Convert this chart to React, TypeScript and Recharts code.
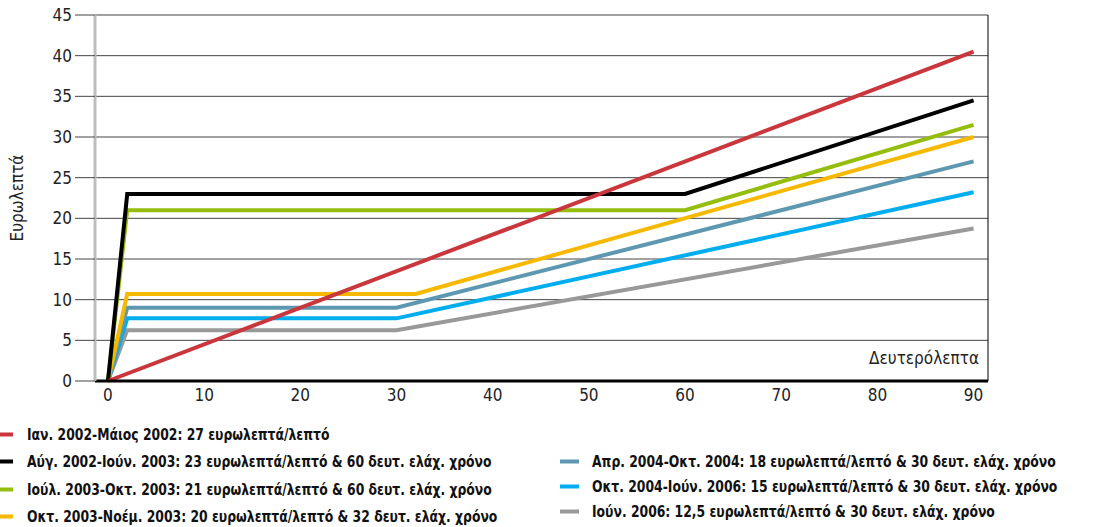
import { LineChart, Line, XAxis, YAxis, CartesianGrid, ReferenceLine } from 'recharts'

// Χρόνος (δευτερόλεπτα) και κόστος (ευρωλεπτά) ανά περίοδο
const redX = [0, 90]
const redY = [0, 40.5]
const blackX = [0, 2, 60, 90]
const blackY = [0, 23, 23, 34.5]
const greenX = [0, 2, 60, 90]
const greenY = [0, 21, 21, 31.5]
const yellowX = [0, 2, 32, 90]
const yellowY = [0, 10.7, 10.7, 30]
const steelX = [0, 2, 30, 90]
const steelY = [0, 9, 9, 27]
const cyanX = [0, 2, 30, 90]
const cyanY = [0, 7.7, 7.7, 23.2]
const grayX = [0, 2, 30, 90]
const grayY = [0, 6.25, 6.25, 18.75]

const xTicks = [0, 10, 20, 30, 40, 50, 60, 70, 80, 90]
const yTicks = [0, 5, 10, 15, 20, 25, 30, 35, 40, 45]

const labels = [
  'Ιαν. 2002-Μάιος 2002: 27 ευρωλεπτά/λεπτό',
  'Αύγ. 2002-Ιούν. 2003: 23 ευρωλεπτά/λεπτό & 60 δευτ. ελάχ. χρόνο',
  'Ιούλ. 2003-Οκτ. 2003: 21 ευρωλεπτά/λεπτό & 60 δευτ. ελάχ. χρόνο',
  'Οκτ. 2003-Νοέμ. 2003: 20 ευρωλεπτά/λεπτό & 32 δευτ. ελάχ. χρόνο',
  'Απρ. 2004-Οκτ. 2004: 18 ευρωλεπτά/λεπτό & 30 δευτ. ελάχ. χρόνο',
  'Οκτ. 2004-Ιούν. 2006: 15 ευρωλεπτά/λεπτό & 30 δευτ. ελάχ. χρόνο',
  'Ιούν. 2006: 12,5 ευρωλεπτά/λεπτό & 30 δευτ. ελάχ. χρόνο',
]
const colors = ['#c9373d', '#000000', '#95bd0e', '#f6b900', '#5e98b0', '#00adee', '#999999']

const toRows = (xs: number[], ys: number[]) => xs.map((x, i) => ({ x, y: ys[i] }))

const series = [
  toRows(redX, redY),
  toRows(blackX, blackY),
  toRows(greenX, greenY),
  toRows(yellowX, yellowY),
  toRows(steelX, steelY),
  toRows(cyanX, cyanY),
  toRows(grayX, grayY),
]
const drawOrder = [6, 5, 4, 3, 2, 1, 0]

const axisFont = '"Liberation Sans Narrow", "DejaVu Sans Condensed", sans-serif'

// θέσεις υπομνήματος: αριστερή στήλη 0-3, δεξιά στήλη 4-6
const legendPos = [
  { left: 0, top: 434 },
  { left: 0, top: 461 },
  { left: 0, top: 489 },
  { left: 0, top: 516 },
  { left: 560, top: 461 },
  { left: 560, top: 486 },
  { left: 560, top: 511 },
]

export default function App() {
  return (
    <div style={{ position: 'absolute', left: 0, top: 0, width: 1102, height: 527, background: '#fff', overflow: 'hidden' }}>
      <LineChart width={1102} height={415} margin={{ top: 15, right: 114, bottom: 0, left: 0 }}>
        <CartesianGrid vertical={false} stroke="#444" strokeWidth={1} />
        <XAxis
          type="number"
          dataKey="x"
          domain={[-1.35, 91.5]}
          ticks={xTicks}
          height={34}
          tickLine={false}
          axisLine={{ stroke: '#000', strokeWidth: 3 }}
          tick={{ fill: '#222', fontSize: 17, fontFamily: axisFont }}
        />
        <YAxis
          type="number"
          domain={[0, 45]}
          ticks={yTicks}
          width={95}
          tickSize={20}
          tickMargin={3}
          tickLine={{ stroke: '#444' }}
          axisLine={{ stroke: '#bdbdbd', strokeWidth: 3 }}
          tick={{ fill: '#222', fontSize: 17, fontFamily: axisFont }}
        />
        <ReferenceLine x={91.5} stroke="#000" strokeWidth={1} />
        {drawOrder.map(i => (
          <Line
            key={i}
            data={series[i]}
            dataKey="y"
            type="linear"
            stroke={colors[i]}
            strokeWidth={4}
            dot={false}
            isAnimationActive={false}
          />
        ))}
      </LineChart>

      <div
        style={{
          position: 'absolute',
          left: 17,
          top: 198,
          transform: 'translate(-50%, -50%) rotate(-90deg)',
          fontFamily: axisFont,
          fontSize: 17,
          color: '#222',
          whiteSpace: 'nowrap',
        }}
      >
        Ευρωλεπτά
      </div>
      <div
        style={{
          position: 'absolute',
          right: 1102 - 979,
          top: 358,
          transform: 'translateY(-50%)',
          fontFamily: axisFont,
          fontSize: 17,
          color: '#222',
          whiteSpace: 'nowrap',
        }}
      >
        Δευτερόλεπτα
      </div>

      {labels.map((t, i) => {
        const p = legendPos[i]
        const swatchW = i < 4 ? 13 : 19
        return (
          <div
            key={t}
            style={{
              position: 'absolute',
              left: p.left,
              top: p.top,
              transform: 'translateY(-50%)',
              display: 'flex',
              alignItems: 'center',
              fontFamily: axisFont,
              fontWeight: 'bold',
              fontSize: 16,
              color: '#111',
              whiteSpace: 'nowrap',
            }}
          >
            <span style={{ display: 'inline-block', width: swatchW, height: 4, background: colors[i], marginRight: i < 4 ? 14 : 13 }} />
            <span style={{ display: 'inline-block', transform: 'scaleX(0.86)', transformOrigin: 'left center' }}>{t}</span>
          </div>
        )
      })}
    </div>
  )
}
